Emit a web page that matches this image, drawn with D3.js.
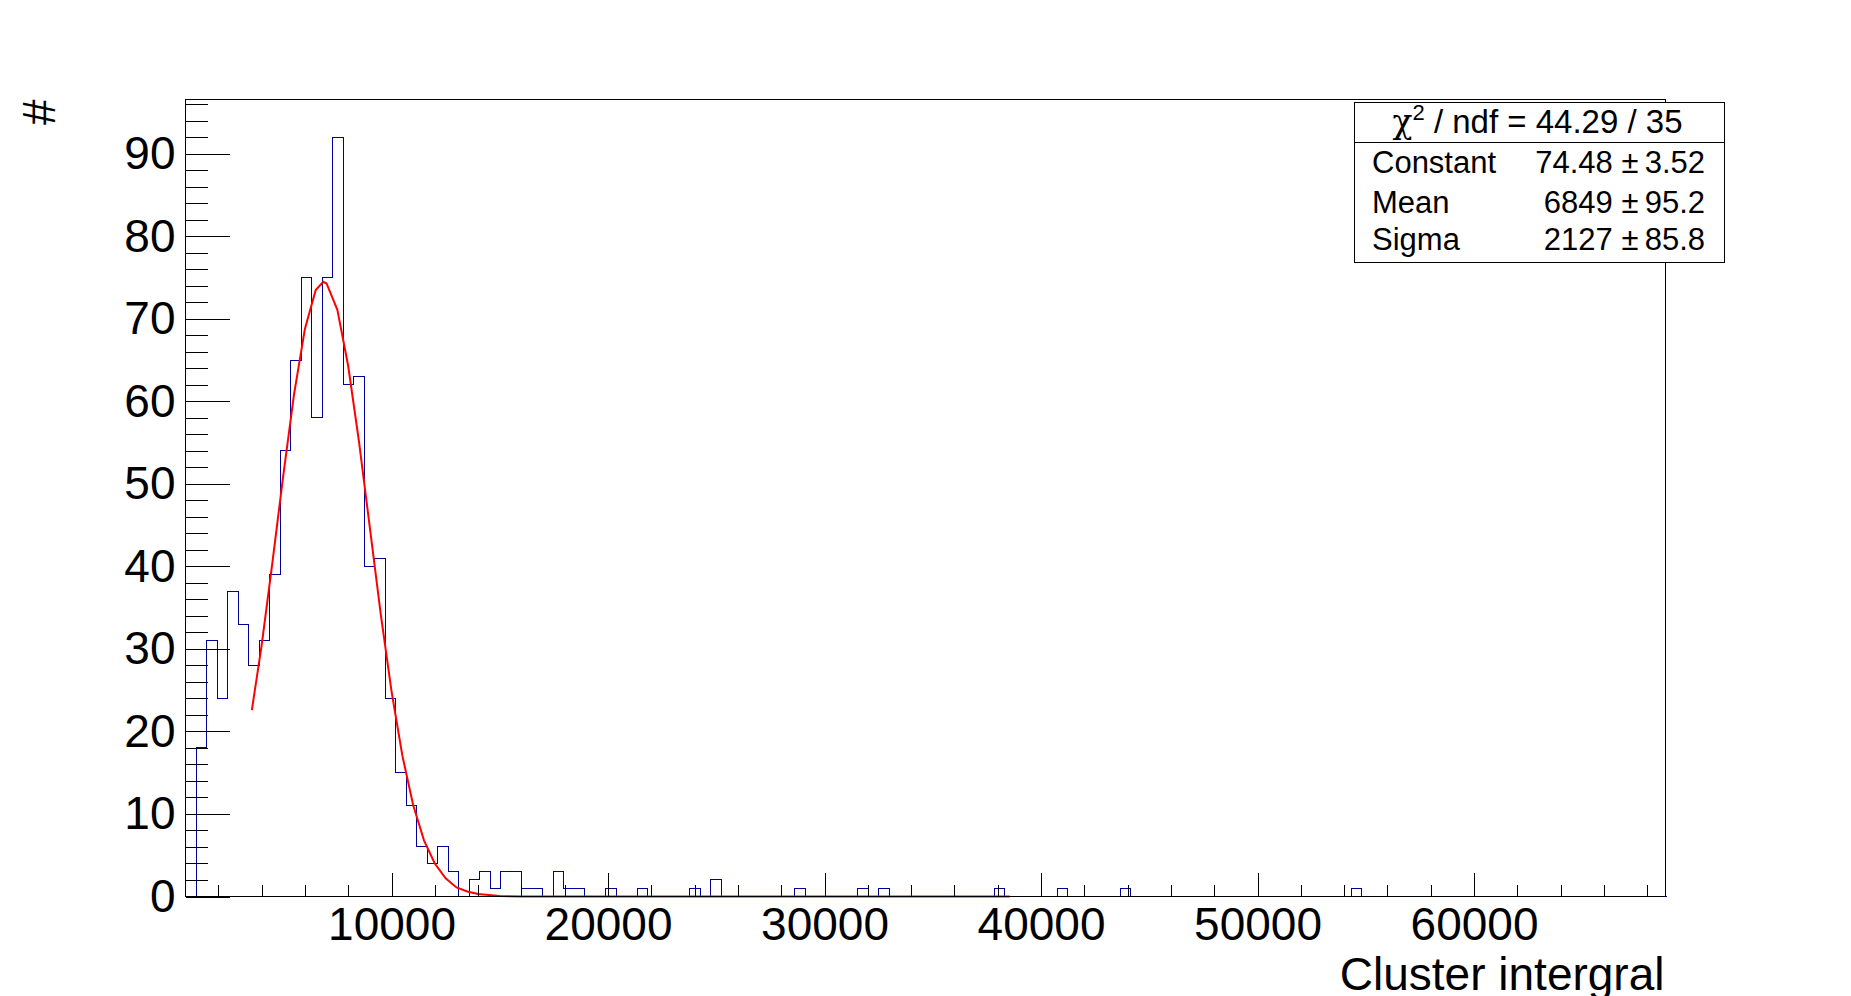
<!DOCTYPE html>
<html>
<head>
<meta charset="utf-8">
<script src="https://cdn.jsdelivr.net/npm/d3@7"></script>
<style>
  body { margin: 0; background: #ffffff; }
  svg { display: block; font-family: "Liberation Sans", Arial, Helvetica, sans-serif; }
</style>
</head>
<body>
<svg id="chart"></svg>
<script>
//--Data
//Histogram binning
var histRange = [485, 68845];
var binCount = 141;
//Bin contents, 10 per row
var binContents = [
  0, 18, 31, 24, 37, 33, 28, 31, 39, 54,
  65, 75, 58, 75, 92, 62, 63, 40, 41, 24,
  15, 11, 6, 4, 6, 3, 0, 2, 3, 1,
  3, 3, 1, 1, 0, 3, 1, 1, 0, 0,
  1, 0, 0, 1, 0, 0, 0, 0, 1, 0,
  2, 0, 0, 0, 0, 0, 0, 0, 1, 0,
  0, 0, 0, 0, 1, 0, 1, 0, 0, 0,
  0, 0, 0, 0, 0, 0, 0, 1, 0, 0,
  0, 0, 0, 1, 0, 0, 0, 0, 0, 1,
  0, 0, 0, 0, 0, 0, 0, 0, 0, 0,
  0, 0, 0, 0, 0, 0, 0, 0, 0, 0,
  0, 1, 0, 0, 0, 0, 0, 0, 0, 0,
  0, 0, 0, 0, 0, 0, 0, 0, 0, 0,
  0, 0, 0, 0, 0, 0, 0, 0, 0, 0,
  0
];

//Fit curve, sampled along the red line
var fitX = [3550, 4000, 4500, 5000, 5500, 6000, 6500, 6850, 7000, 7500, 8000, 8500, 9000, 9500,
  10000, 10500, 11000, 11500, 12000, 12500, 13000, 13500, 14000, 15000, 16000, 38550];
var fitY = [22.6, 30.4, 40.5, 51.0, 60.9, 68.8, 73.5, 74.5, 74.3, 71.1, 64.3, 55.1, 44.7, 34.3,
  24.9, 17.1, 11.1, 6.8, 4.0, 2.2, 1.1, 0.6, 0.3, 0.05, 0.0, 0.0];

//Axes
var yMax = 96.6;
var xMajorTicks = [10000, 20000, 30000, 40000, 50000, 60000];
var xMinorTicks = d3.range(2000, 68001, 2000);
var yMajorTicks = [0, 10, 20, 30, 40, 50, 60, 70, 80, 90];
var yMinorTicks = d3.range(0, 97, 2);
var xTitle = "Cluster intergral";
var yTitle = "#";

//Stats box
var chi2Text = ["44.29", "35"];
var statNames = ["Constant", "Mean", "Sigma"];
var statValues = ["74.48", "6849", "2127"];
var statErrors = ["3.52", "95.2", "85.8"];

//--Canvas
var canvas = {
  width: 1851,
  height: 996,
  left: 185.5,
  right: 1665.5,
  top: 99.5,
  bottom: 896.5,
  histColor: "#000099",
  fitColor: "#ff0000"
};
canvas.x = d3.scaleLinear().domain(histRange).range([canvas.left, canvas.right]);
canvas.y = d3.scaleLinear().domain([0, yMax]).range([canvas.bottom, canvas.top]);

let root = d3.select("#chart")
  .attr("width", canvas.width)
  .attr("height", canvas.height);

root.append("rect")
  .attr("width", canvas.width)
  .attr("height", canvas.height)
  .attr("fill", "#ffffff");

//--Histogram outline
var binWidth = (histRange[1] - histRange[0]) / binCount;
var steps = [[histRange[0], 0]];
binContents.forEach((c, i) => {
  steps.push([histRange[0] + i * binWidth, c]);
  steps.push([histRange[0] + (i + 1) * binWidth, c]);
});
steps.push([histRange[1], 0]);

root.append("path")
  .datum(steps)
  .attr("fill", "none")
  .attr("stroke", canvas.histColor)
  .attr("stroke-width", 1)
  .attr("shape-rendering", "crispEdges")
  .attr("d", d3.line().x(d => Math.round(canvas.x(d[0])) + 0.5).y(d => Math.round(canvas.y(d[1]) - 0.5) + 0.5));

//--Fit curve
root.append("path")
  .datum(d3.zip(fitX, fitY))
  .attr("fill", "none")
  .attr("stroke", canvas.fitColor)
  .attr("stroke-width", 2)
  .attr("d", d3.line().x(d => canvas.x(d[0])).y(d => canvas.y(d[1])));

//--Axes
let xAxisG = root.append("g").attr("transform", "translate(0," + canvas.bottom + ")");
xAxisG.append("g")
  .call(d3.axisBottom(canvas.x).tickValues(xMinorTicks).tickSize(-12).tickFormat(""))
  .call(g => g.select(".domain").remove());
xAxisG.append("g")
  .call(d3.axisBottom(canvas.x).tickValues(xMajorTicks).tickSize(-24).tickPadding(11).tickFormat(d3.format("d")))
  .call(g => g.select(".domain").remove());

let yAxisG = root.append("g").attr("transform", "translate(" + canvas.left + ",0)");
yAxisG.append("g")
  .call(d3.axisLeft(canvas.y).tickValues(yMinorTicks).tickSize(-22).tickFormat(""))
  .call(g => g.select(".domain").remove());
yAxisG.append("g")
  .call(d3.axisLeft(canvas.y).tickValues(yMajorTicks).tickSize(-44).tickPadding(10).tickFormat(d3.format("d")))
  .call(g => g.select(".domain").remove());

root.selectAll(".tick line")
  .attr("stroke", "#000000")
  .attr("shape-rendering", "crispEdges");
root.selectAll(".tick text")
  .attr("fill", "#000000")
  .style("font-family", "'Liberation Sans', Arial, sans-serif")
  .style("font-size", "46px");

//Frame
root.append("rect")
  .attr("x", canvas.left)
  .attr("y", canvas.top)
  .attr("width", canvas.right - canvas.left)
  .attr("height", canvas.bottom - canvas.top)
  .attr("fill", "none")
  .attr("stroke", "#000000")
  .attr("stroke-width", 1)
  .attr("shape-rendering", "crispEdges");

//Titles
root.append("text")
  .attr("x", canvas.right - 1)
  .attr("y", 990)
  .attr("text-anchor", "end")
  .style("font-size", "46px")
  .text(xTitle);

root.append("text")
  .attr("transform", "translate(55," + canvas.top + ") rotate(-90)")
  .attr("text-anchor", "end")
  .style("font-size", "46px")
  .text(yTitle);

//--Stats box
var box = { x: 1354.5, y: 102.5, w: 370, h: 159.5, sep: 142.5 };
let stats = root.append("g");
stats.append("rect")
  .attr("x", box.x)
  .attr("y", box.y)
  .attr("width", box.w)
  .attr("height", box.h)
  .attr("fill", "#ffffff")
  .attr("stroke", "#000000")
  .attr("shape-rendering", "crispEdges");
stats.append("line")
  .attr("x1", box.x)
  .attr("x2", box.x + box.w)
  .attr("y1", box.sep)
  .attr("y2", box.sep)
  .attr("stroke", "#000000")
  .attr("shape-rendering", "crispEdges");

let chi = stats.append("text")
  .attr("x", box.x + box.w / 2 - 2)
  .attr("y", 132.5)
  .attr("text-anchor", "middle")
  .style("font-size", "33px");
chi.append("tspan")
  .style("font-family", "'DejaVu Serif', 'Liberation Serif', serif")
  .text("\u03c7");
chi.append("tspan")
  .attr("dy", -13)
  .style("font-size", "22px")
  .text("2");
chi.append("tspan")
  .attr("dy", 13)
  .text(" / ndf = " + chi2Text[0] + " / " + chi2Text[1]);

var rowBaselines = [173, 213, 250];
stats.selectAll("text.name")
  .data(statNames)
  .enter()
  .append("text")
  .classed("name", true)
  .attr("x", 1372)
  .attr("y", (d, i) => rowBaselines[i])
  .style("font-size", "31px")
  .text(d => d);

stats.selectAll("text.value")
  .data(statValues)
  .enter()
  .append("text")
  .classed("value", true)
  .attr("x", 1705)
  .attr("y", (d, i) => rowBaselines[i])
  .attr("text-anchor", "end")
  .style("font-size", "31px")
  .text((d, i) => d + " \u00b1\u2009" + statErrors[i]);
</script>
</body>
</html>
